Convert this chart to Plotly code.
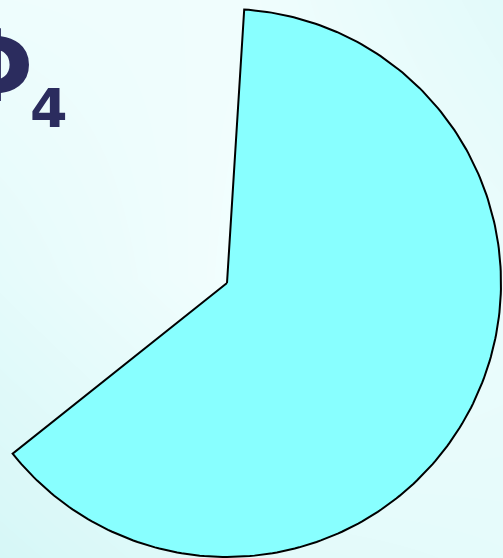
import numpy as np
import plotly.graph_objects as go

# ---- data ----
labels = ["Φ4", "rest"]
values = [63.3, 36.7]          # percent share of the visible slice
rotation_deg = 3.6             # where the slice starts, clockwise from 12 o'clock
title_main = "Φ"
title_sub = "4"

# ---- geometry of the slice (computed from the data) ----
share = values[0] / sum(values)
t = np.radians(np.linspace(rotation_deg, rotation_deg + 360 * share, 240))
sx = np.concatenate([[0.0], np.sin(t), [0.0]])
sy = np.concatenate([[0.0], np.cos(t), [0.0]])

W, H = 503, 558
cx_px, cy_px, r_px = 227, 283, 274
xr = [-cx_px / r_px, (W - cx_px) / r_px]
yr = [-(H - cy_px) / r_px, cy_px / r_px]

fig = go.Figure()

# soft background gradient
bgx = [xr[0], (xr[0] + xr[1]) / 2, xr[1]]
bgy = [yr[0], (yr[0] + yr[1]) / 2, yr[1]]
bgz = [[1.0, 0.6, 0.5],
       [0.5, 0.05, 0.3],
       [0.2, 0.15, 0.6]]
fig.add_trace(go.Heatmap(x=bgx, y=bgy, z=bgz, zsmooth="best", showscale=False,
                         colorscale=[[0, "#F3FEFE"], [1, "#D6F7F7"]],
                         hoverinfo="skip"))

fig.add_trace(go.Scatter(x=sx, y=sy, mode="lines", fill="toself",
                         fillcolor="#88FFFF",
                         line=dict(color="#000000", width=2),
                         name=labels[0], hoverinfo="skip"))

fig.add_annotation(text=title_main, xref="paper", yref="paper",
                   x=-9 / W, y=1 - 67 / H, xanchor="center", yanchor="middle",
                   showarrow=False,
                   font=dict(family="DejaVu Sans", size=100, color="#2B2C5E",
                             weight="bold"))
fig.add_annotation(text=title_sub, xref="paper", yref="paper",
                   x=49 / W, y=1 - 108 / H, xanchor="center", yanchor="middle",
                   showarrow=False,
                   font=dict(family="DejaVu Sans", size=54, color="#2B2C5E",
                             weight="bold"))

fig.update_layout(width=W, height=H, margin=dict(l=0, r=0, t=0, b=0),
                  showlegend=False, paper_bgcolor="#EEFCFC",
                  plot_bgcolor="#EEFCFC",
                  xaxis=dict(range=xr, visible=False, fixedrange=True),
                  yaxis=dict(range=yr, visible=False, fixedrange=True))

fig.write_html("out.html", config={"displayModeBar": False},
               post_script="document.body.style.margin='0';"
                           "document.body.style.overflow='hidden';")
